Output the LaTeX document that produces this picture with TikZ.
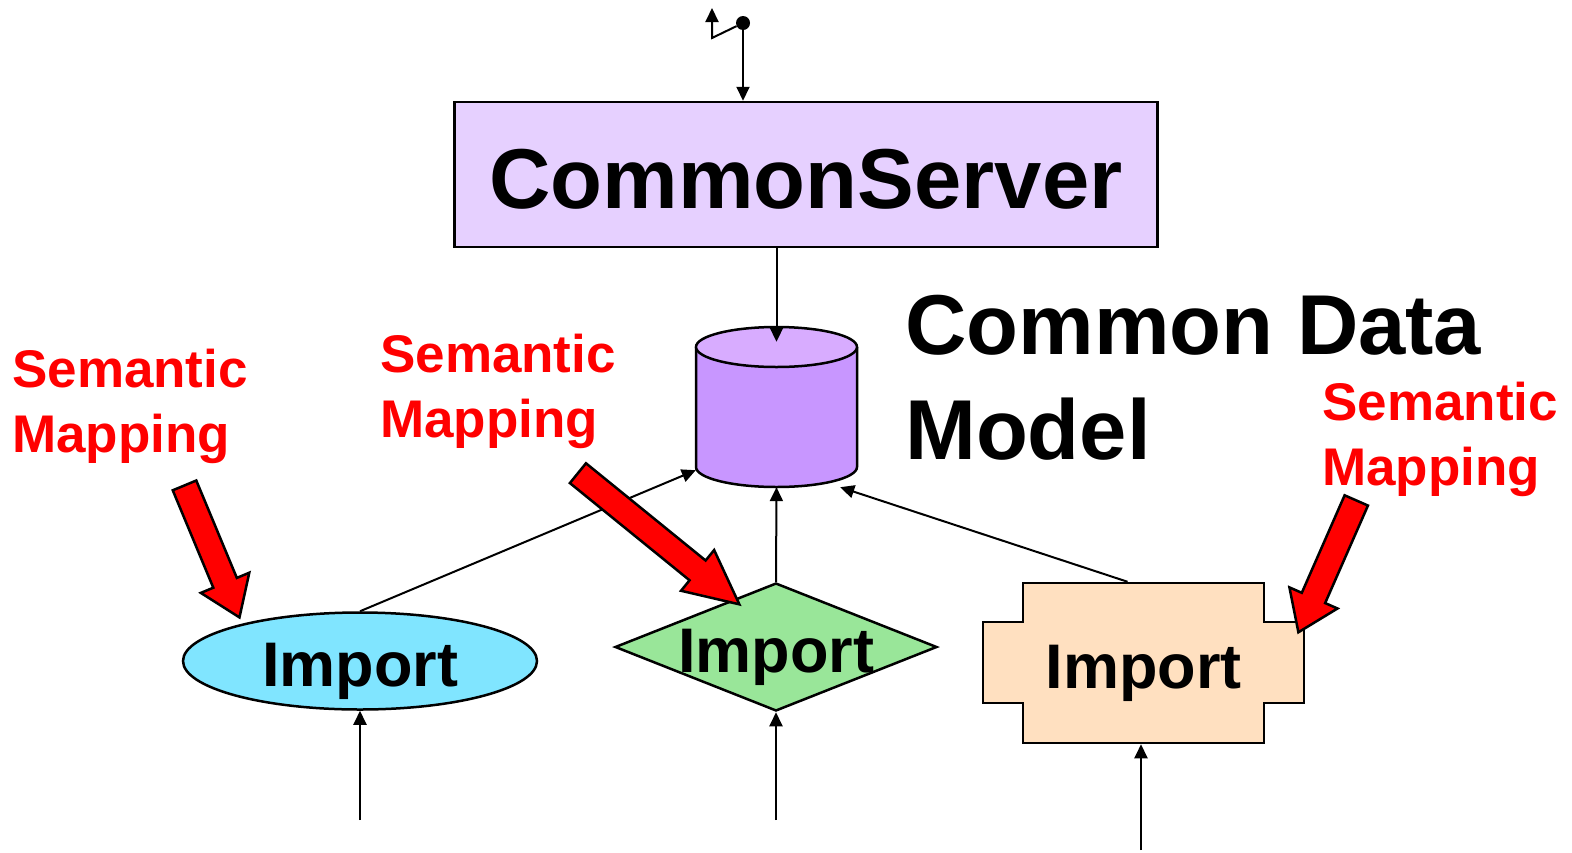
\documentclass[tikz,border=0pt]{standalone}
\usepackage{fontspec}
\setmainfont{Liberation Sans}
\usetikzlibrary{shapes.geometric, shapes.arrows, arrows.meta, positioning}
\definecolor{serverfill}{RGB}{230,208,255}
\definecolor{dbbody}{RGB}{200,150,255}
\definecolor{dbtop}{RGB}{216,172,255}
\definecolor{ellfill}{RGB}{128,229,255}
\definecolor{diafill}{RGB}{153,230,153}
\definecolor{crossfill}{RGB}{255,224,192}
\tikzstyle{block}=[draw,line width=2.5pt,fill=serverfill,rectangle]
\tikzstyle{importbox}=[draw,line width=2.5pt,inner sep=0pt,text height=50pt,text depth=0pt,font=\fontsize{63}{63}\selectfont\bfseries]
\tikzstyle{maparrow}=[single arrow,draw,line width=2.5pt,fill=red,inner sep=0pt,text height=23pt,text depth=0pt,single arrow head extend=13.5pt,single arrow tip angle=70]
\tikzstyle{mapnote}=[text=red,align=left,anchor=north west,inner sep=0pt,font=\fontsize{53}{65}\selectfont\bfseries]
\tikzstyle{conn}=[line width=2pt]

\begin{document}
\begin{tikzpicture}[x=1pt,y=-1pt,>={Triangle[length=14pt,width=13pt]}]
    \useasboundingbox (0,0) rectangle (1572,852);

    % server and its switch
    \node[block, minimum width=703pt, minimum height=145pt, text height=67pt, text depth=0pt,
          font=\fontsize{85}{85}\selectfont\bfseries] (server) at (806,174.5) {CommonServer};
    \node[circle, fill, inner sep=0pt, minimum size=14pt] (switchdot) at (743,23) {};
    \coordinate (bend) at (712,38);
    \coordinate (up) at (712,8);
    \draw[conn,->] (switchdot) -- (bend) -- (up);
    \draw[conn,->] (switchdot) -- (switchdot |- server.north);

    % common data model
    \node[minimum width=161pt, minimum height=160pt, inner sep=0pt] (db) at (776.5,407) {};
    \fill[dbbody] (696,347) -- (696,467) arc[start angle=180, end angle=360, x radius=80.5pt, y radius=20pt]
        -- (857,347) -- cycle;
    \draw[line width=2.5pt] (696,347) -- (696,467) arc[start angle=180, end angle=360, x radius=80.5pt, y radius=20pt]
        -- (857,347);
    \draw[line width=2.5pt, fill=dbtop] (776.5,347) ellipse[x radius=80.5pt, y radius=20pt];
    \node[align=left, anchor=north west, inner sep=0pt,
          font=\fontsize{85}{105}\selectfont\bfseries] (cdmtext) at (905,295) {Common Data\\Model};
    \draw[conn,->] (server.south -| db.north) -- ([yshift=-15pt]db.north);

    % imports
    \node[importbox, ellipse, fill=ellfill, minimum width=354pt, minimum height=97pt] (impA) at (360,661) {Import};
    \node[importbox, diamond, aspect=2.52, fill=diafill, minimum width=322pt, minimum height=128pt] (impB) at (776,647) {Import};
    \coordinate (cc) at (1143.5,663);
    \draw[line width=2.5pt, fill=crossfill] (cc) ++(-120.5,-80) -- ++(241,0) -- ++(0,39) -- ++(40,0)
        -- ++(0,81) -- ++(-40,0) -- ++(0,40) -- ++(-241,0) -- ++(0,-40) -- ++(-40,0)
        -- ++(0,-81) -- ++(40,0) -- cycle;
    \node[importbox, draw=none, minimum width=241pt, minimum height=160pt] (impC) at (cc) {Import};

    \draw[conn,->] (impA.north) -- ([yshift=17pt]db.south west);
    \draw[conn,->] (impB.north) -- (db.south);
    \draw[conn,->] ([xshift=-16pt]impC.north) -- ([xshift=-17pt]db.south east);

    \coordinate (inA) at (360,820);
    \coordinate (inB) at (776,820);
    \coordinate (inC) at (1141,850);
    \draw[conn,->] (inA) -- (impA.south);
    \draw[conn,->] (inB) -- (impB.south);
    \draw[conn,->] (inC) -- (inC |- impC.south);

    % semantic mapping notes
    \node[mapnote] (noteA) at (12,349) {Semantic\\Mapping};
    \node[mapnote] (noteB) at (380,334) {Semantic\\Mapping};
    \node[mapnote] (noteC) at (1322,382) {Semantic\\Mapping};
    \node[maparrow, minimum height=143pt, rotate=-67.4] (mapA) at (208.5,543) {};
    \node[maparrow, minimum height=208pt, rotate=-39.1, single arrow tip angle=52] (mapB) at (648.5,530.5) {};
    \node[maparrow, minimum height=144pt, rotate=-113.7] (mapC) at (1331,558) {};
\end{tikzpicture}
\end{document}
